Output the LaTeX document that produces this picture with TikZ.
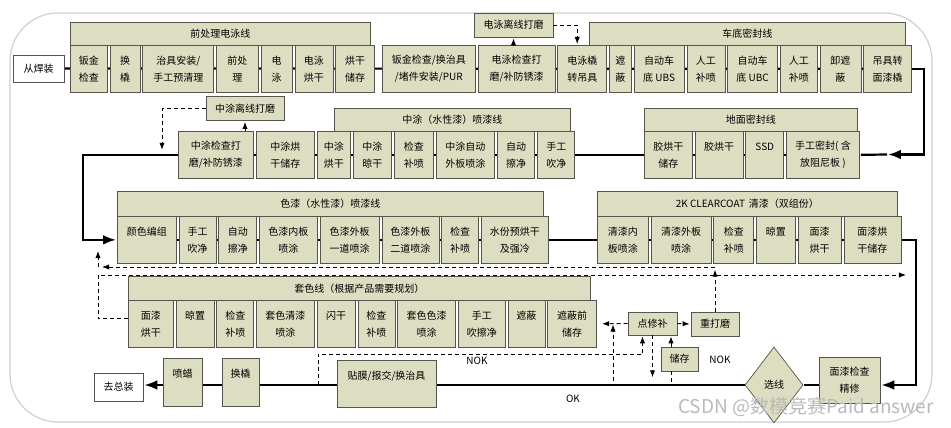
\documentclass[tikz,border=0pt]{standalone}
\usepackage{fontspec}
\newfontfamily\cjk{Noto Sans CJK SC}
\usetikzlibrary{positioning,shapes.geometric,backgrounds,arrows.meta}
\definecolor{boxfill}{RGB}{221,222,193}
\definecolor{boxline}{RGB}{85,85,75}
\definecolor{framegray}{RGB}{208,208,208}
\tikzset{
  stepbox/.style={draw=boxline,fill=boxfill,line width=0.7pt,minimum height=47pt,inner sep=1pt,align=center,font=\cjk\fontsize{10}{17}\selectfont},
  sidebox/.style={stepbox,minimum height=24pt},
  headbox/.style={stepbox,minimum height=23pt,anchor=north west},
  endbox/.style={stepbox,fill=white,minimum height=27pt},
  decide/.style={stepbox,diamond,minimum width=58pt,minimum height=76pt,inner sep=0pt},
  flow/.style={line width=2.2pt},
  rework/.style={line width=0.9pt,dash pattern=on 4pt off 3pt},
  tag/.style={font=\cjk\fontsize{10}{12}\selectfont},
  wmark/.style={font=\cjk\fontsize{19}{19}\selectfont,text=gray!55},
}

\begin{document}
\begin{tikzpicture}[x=1pt,y=-1pt,node distance=2pt,>=Latex,shorten >=1pt]
  \useasboundingbox (0,0) rectangle (951,428);
  \draw[framegray,line width=1.2pt,rounded corners=48pt] (10,13) rectangle (932,422);

  % pretreatment / e-coat
  \node[endbox,minimum width=51pt] (weld) at (38.5,68.5) {从焊装};
  \node[headbox,minimum width=300pt] (pre) at (70,22) {前处理电泳线};
  \node[stepbox,minimum width=37pt,anchor=north west] (a1) at (70,45) {钣金\\检查};
  \node[stepbox,minimum width=30pt,right=of a1] (a2) {换\\橇};
  \node[stepbox,minimum width=71pt,right=of a2] (a3) {治具安装/\\手工预清理};
  \node[stepbox,minimum width=42pt,right=of a3] (a4) {前处\\理};
  \node[stepbox,minimum width=31pt,right=of a4] (a5) {电\\泳};
  \node[stepbox,minimum width=38pt,right=of a5] (a6) {电泳\\烘干};
  \node[stepbox,minimum width=39pt,right=of a6] (a7) {烘干\\储存};

  % underbody sealing
  \node[stepbox,minimum width=93pt,anchor=north west] (b1) at (382,45) {钣金检查/换治具\\/堵件安装/PUR};
  \node[stepbox,minimum width=77pt,right=of b1] (b2) {电泳检查打\\磨/补防锈漆};
  \node[stepbox,minimum width=49pt,right=of b2] (b3) {电泳橇\\转吊具};
  \node[stepbox,minimum width=22pt,right=of b3] (b4) {遮\\蔽};
  \node[stepbox,minimum width=50pt,right=of b4] (b5) {自动车\\底 UBS};
  \node[stepbox,minimum width=38pt,right=of b5] (b6) {人工\\补喷};
  \node[stepbox,minimum width=50pt,right=of b6] (b7) {自动车\\底 UBC};
  \node[stepbox,minimum width=37pt,right=of b7] (b8) {人工\\补喷};
  \node[stepbox,minimum width=41pt,right=of b8] (b9) {卸遮\\蔽};
  \node[stepbox,minimum width=48pt,right=of b9] (b10) {吊具转\\面漆橇};
  \node[headbox,minimum width=316pt] (under) at (589,22) {车底密封线};
  \node[sidebox,minimum width=79pt] (offA) at (513.5,25) {电泳离线打磨};

  % primer line
  \node[headbox,minimum width=236pt] (mid) at (334,108) {中涂（水性漆）喷漆线};
  \node[stepbox,minimum width=75pt,anchor=north west] (c1) at (178,131) {中涂检查打\\磨/补防锈漆};
  \node[stepbox,minimum width=57.5pt,right=2.5pt of c1] (c2) {中涂烘\\干储存};
  \node[stepbox,minimum width=33pt,right=2.5pt of c2] (c3) {中涂\\烘干};
  \node[stepbox,minimum width=38pt,right=2.5pt of c3] (c4) {中涂\\晾干};
  \node[stepbox,minimum width=38.5pt,right=2.5pt of c4] (c5) {检查\\补喷};
  \node[stepbox,minimum width=58pt,right=2.5pt of c5] (c6) {中涂自动\\外板喷涂};
  \node[stepbox,minimum width=37pt,right=2.5pt of c6] (c7) {自动\\擦净};
  \node[stepbox,minimum width=37pt,right=2.5pt of c7] (c8) {手工\\吹净};
  \node[sidebox,minimum width=78pt] (offB) at (245,108.5) {中涂离线打磨};

  % floor sealing
  \node[headbox,minimum width=213pt] (floor) at (644,108) {地面密封线};
  \node[stepbox,minimum width=48pt,anchor=north west] (d1) at (644,131) {胶烘干\\储存};
  \node[stepbox,minimum width=48pt,right=of d1] (d2) {胶烘干\\~};
  \node[stepbox,minimum width=38pt,right=of d2] (d3) {SSD\\~};
  \node[stepbox,minimum width=73pt,right=of d3] (d4) {手工密封( 含\\放阻尼板 )};

  % base coat
  \node[headbox,minimum width=426pt,minimum height=25pt] (base) at (117,191) {色漆（水性漆）喷漆线};
  \node[stepbox,minimum width=59pt,anchor=north west] (e1) at (117,216) {颜色编组\\~};
  \node[stepbox,minimum width=37pt,right=of e1] (e2) {手工\\吹净};
  \node[stepbox,minimum width=38pt,right=of e2] (e3) {自动\\擦净};
  \node[stepbox,minimum width=58pt,right=of e3] (e4) {色漆内板\\喷涂};
  \node[stepbox,minimum width=59pt,right=of e4] (e5) {色漆外板\\一道喷涂};
  \node[stepbox,minimum width=57pt,right=of e5] (e6) {色漆外板\\二道喷涂};
  \node[stepbox,minimum width=37pt,right=of e6] (e7) {检查\\补喷};
  \node[stepbox,minimum width=67pt,right=of e7] (e8) {水份预烘干\\及强冷};

  % clear coat
  \node[headbox,minimum width=300pt,minimum height=25pt] (clear) at (597,191) {2K CLEARCOAT \,清漆（双组份）};
  \node[stepbox,minimum width=51pt,anchor=north west] (f1) at (597,216) {清漆内\\板喷涂};
  \node[stepbox,minimum width=60pt,right=of f1] (f2) {清漆外板\\喷涂};
  \node[stepbox,minimum width=40pt,right=of f2] (f3) {检查\\补喷};
  \node[stepbox,minimum width=39pt,right=of f3] (f4) {晾置\\~};
  \node[stepbox,minimum width=43pt,right=of f4] (f5) {面漆\\烘干};
  \node[stepbox,minimum width=57pt,right=of f5] (f6) {面漆烘\\干储存};

  % two-tone line
  \node[headbox,minimum width=462pt,minimum height=24pt] (two) at (128,276) {套色线（根据产品需要规划）};
  \node[stepbox,minimum width=45pt,anchor=north west] (g1) at (128,300) {面漆\\烘干};
  \node[stepbox,minimum width=38pt,right=of g1] (g2) {晾置\\~};
  \node[stepbox,minimum width=37pt,right=of g2] (g3) {检查\\补喷};
  \node[stepbox,minimum width=58pt,right=of g3] (g4) {套色清漆\\喷涂};
  \node[stepbox,minimum width=38pt,right=of g4] (g5) {闪干\\~};
  \node[stepbox,minimum width=37pt,right=of g5] (g6) {检查\\补喷};
  \node[stepbox,minimum width=58pt,right=of g6] (g7) {套色色漆\\喷涂};
  \node[stepbox,minimum width=47pt,right=of g7] (g8) {手工\\吹擦净};
  \node[stepbox,minimum width=37pt,right=of g8] (g9) {遮蔽\\~};
  \node[stepbox,minimum width=49pt,right=of g9] (g10) {遮蔽前\\储存};

  % final inspection and exit
  \node[endbox,minimum width=49pt,minimum height=28pt] (home) at (118.5,387) {去总装};
  \node[stepbox,minimum width=39pt,minimum height=48pt] (wax) at (182.5,382) {喷蜡\\~};
  \node[stepbox,minimum width=37pt,minimum height=48pt] (swap) at (240.5,382) {换橇\\~};
  \node[stepbox,minimum width=99pt] (film) at (386.5,383.5) {贴膜/报交/换治具\\~};
  \node[decide] (pick) at (774,385) {选线};
  \node[stepbox,minimum width=61pt,minimum height=46pt] (insp) at (849.5,380) {面漆检查\\精修};
  \node[sidebox,minimum width=49pt,minimum height=23pt] (spot) at (652.5,323.5) {点修补};
  \node[sidebox,minimum width=48pt] (regrind) at (715,324) {重打磨};
  \node[sidebox,minimum width=37pt] (store) at (679.5,359) {储存};

  \node[tag] (nokA) at (477,361) {NOK};
  \node[tag] (nokB) at (720,360) {NOK};
  \node[tag] (okA) at (573,399) {OK};

  % main flow
  \coordinate (sealin) at (887,154.5);
  \begin{scope}[on background layer]
    \draw[flow] (weld.east) -- (b10.center);
    \draw[flow,->] (b10.east) -- ++(12,0) |- (sealin);
    \draw[flow] (sealin) -- (d4.east);
    \draw[flow] (d4.center) -- (c1.center);
    \draw[flow,->] (c1.west) -- ++(-95,0) |- (e1.west);
    \draw[flow] (e1.center) -- (f6.center);
    \draw[flow,->] (f6.east) -- ++(15,0) |- ([yshift=-5pt]insp.east);
    \draw[flow] (insp.west |- pick.east) -- (pick.east);
    \draw[flow,->] (pick.west) -- (pick.west -| home.east);
  \end{scope}

  % off-line sanding
  \draw[line width=0.9pt,->] (b2.north -| offA.south) -- (offA.south);
  \draw[rework,->] (offA.east) -| ([xshift=-5pt]b3.north);
  \draw[line width=0.9pt,->] (c1.north -| offB.south) -- (offB.south);
  \draw[rework,->] (offB.west) -| ([xshift=-16pt,yshift=4pt]c1.west);

  % repair loops
  \coordinate (lt) at (98,275);
  \coordinate (rt) at (907,275);
  \coordinate (rtop) at (715,267);
  \coordinate (ltop) at (101,267);
  \coordinate (lup) at (98,267);
  \coordinate (up1) at (613,381);
  \coordinate (nok1) at (318,385);
  \draw[rework,->] ([yshift=5pt]g1.west) -| (lt) -- (rt);
  \draw[rework,->] (regrind.north) -- ++(0,-43);
  \draw[rework,->] (rtop) -- (ltop);
  \draw[rework,->] (lup) -- ++(0,-17);
  \draw[rework,->,shorten >=5pt] (spot.west) -- (g10.east);
  \draw[rework,->] (spot.east) -- (regrind.west);
  \draw[line width=0.9pt,->] ([xshift=-8.5pt]store.north) -- ([xshift=-8.5pt]store.north |- spot.south);
  \draw[rework] ([xshift=-8.5pt]store.south) -- ++(0,12);
  \draw[rework,->] (spot.south) -- ++(0,43);
  \draw[rework,->] (up1) -- (up1 |- spot.west);
  \draw[rework,->] (nok1) -- ++(0,-31) -| ([xshift=-10pt]spot.south);

  \node[wmark] (csdn) at (806,407) {CSDN @数模竞赛Paid answer};
\end{tikzpicture}
\end{document}
